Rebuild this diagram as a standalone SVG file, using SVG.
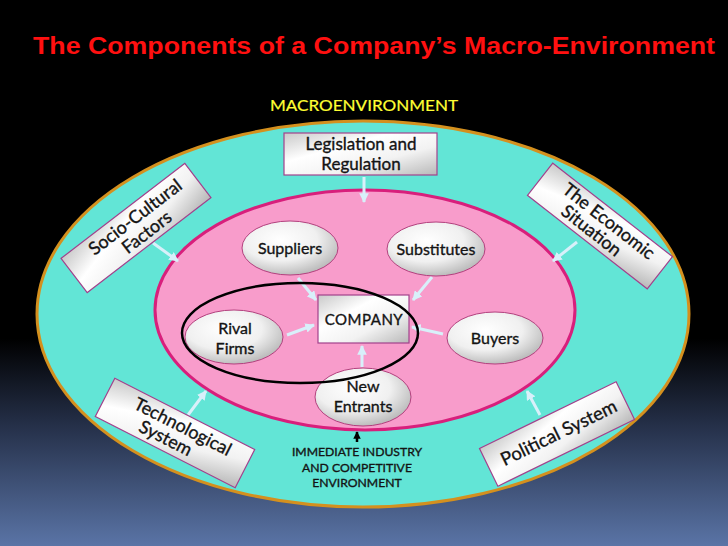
<svg xmlns="http://www.w3.org/2000/svg" width="728" height="546" viewBox="0 0 728 546">
<defs>
<linearGradient id="bg" x1="0" y1="0" x2="0" y2="1">
<stop offset="0" stop-color="#000"/>
<stop offset="0.62" stop-color="#000"/>
<stop offset="0.78" stop-color="#253049"/>
<stop offset="1" stop-color="#5a74a6"/>
</linearGradient>
<linearGradient id="box" x1="0" y1="0" x2="1" y2="1">
<stop offset="0" stop-color="#c9c9c9"/>
<stop offset="0.35" stop-color="#ffffff"/>
<stop offset="0.65" stop-color="#f2f2f2"/>
<stop offset="1" stop-color="#b8b8b8"/>
</linearGradient>
<radialGradient id="oval" cx="0.4" cy="0.35" r="0.7">
<stop offset="0" stop-color="#ffffff"/>
<stop offset="0.55" stop-color="#f0f0f0"/>
<stop offset="1" stop-color="#b5b5b5"/>
</radialGradient>
<marker id="ah" viewBox="0 0 10 10" refX="9" refY="5" markerWidth="3.2" markerHeight="3.2" orient="auto" markerUnits="strokeWidth">
<path d="M0,0 L10,5 L0,10 z" fill="#d8f0fa"/>
</marker>
<marker id="ahb" viewBox="0 0 10 10" refX="9" refY="5" markerWidth="3" markerHeight="3" orient="auto" markerUnits="strokeWidth">
<path d="M0,0 L10,5 L0,10 z" fill="#000"/>
</marker>
</defs>
<style>
.t{font-family:Lato,"Open Sans","Liberation Sans",sans-serif;fill:#141414;stroke:#141414;stroke-width:0.35;text-anchor:middle}
.bx{fill:url(#box);stroke:#a2418c;stroke-width:1.2}
.ov{fill:url(#oval);stroke:#b3407e;stroke-width:1}
.ar{stroke:#d8f0fa;stroke-width:3;fill:none;marker-end:url(#ah)}
</style>
<rect x="0" y="0" width="728" height="546" fill="url(#bg)"/>
<text x="374" y="54" font-family="'Liberation Sans',Arial,sans-serif" font-weight="bold" font-size="24" fill="#ff1010" text-anchor="middle" textLength="682" lengthAdjust="spacingAndGlyphs">The Components of a Company’s Macro-Environment</text>
<text x="364" y="111" font-family="Lato,'Open Sans',sans-serif" font-size="16" fill="#ffff33" stroke="#ffff33" stroke-width="0.2" text-anchor="middle" textLength="188" lengthAdjust="spacingAndGlyphs">MACROENVIRONMENT</text>

<g id="macro-environment">
<ellipse cx="363" cy="314" rx="326" ry="193" fill="#62e5d6" stroke="#d4901e" stroke-width="3"/>
</g>
<g id="industry-environment">
<ellipse cx="365" cy="310" rx="210" ry="120" fill="#f89ccb" stroke="#d81f7c" stroke-width="3"/>
</g>

<g id="connectors">
<line class="ar" x1="364" y1="177" x2="364" y2="202"/>
<line class="ar" x1="153" y1="243" x2="178" y2="261"/>
<line class="ar" x1="577" y1="242" x2="553" y2="261"/>
<line class="ar" x1="188" y1="415" x2="206" y2="391"/>
<line class="ar" x1="540" y1="415" x2="527" y2="391"/>
<line class="ar" x1="298" y1="278" x2="316" y2="300"/>
<line class="ar" x1="432" y1="277" x2="413" y2="300"/>
<line class="ar" x1="287" y1="335" x2="314" y2="325"/>
<line class="ar" x1="443" y1="334" x2="412" y2="327"/>
<line class="ar" x1="362" y1="367" x2="362" y2="346"/>
<line x1="357" y1="442" x2="357" y2="432" stroke="#000" stroke-width="2.5" marker-end="url(#ahb)"/>
</g>

<g id="legislation">
<rect class="bx" x="284" y="133" width="153" height="42"/>
<text class="t" x="361" y="150" font-size="17">Legislation and</text>
<text class="t" x="361" y="170" font-size="17">Regulation</text>
</g>
<g id="socio-cultural" transform="translate(136,228) rotate(-37.5)">
<rect class="bx" x="-78" y="-21.5" width="156" height="43"/>
<text class="t" x="6" y="-3" font-size="18">Socio-Cultural</text>
<text class="t" x="6" y="16" font-size="18">Factors</text>
</g>
<g id="economic" transform="translate(600,226) rotate(38)">
<rect class="bx" x="-76" y="-20.5" width="152" height="41"/>
<text class="t" x="4" y="-3" font-size="18">The Economic</text>
<text class="t" x="-4" y="15" font-size="18">Situation</text>
</g>
<g id="technological" transform="translate(175,433) rotate(27)">
<rect class="bx" x="-78.5" y="-21.5" width="157" height="43"/>
<text class="t" x="4" y="-3" font-size="18">Technological</text>
<text class="t" x="-6" y="15" font-size="18">System</text>
</g>
<g id="political" transform="translate(557,434) rotate(-26)">
<rect class="bx" x="-76" y="-21" width="152" height="42"/>
<text class="t" x="2" y="6" font-size="18.5">Political System</text>
</g>

<g id="suppliers">
<ellipse class="ov" cx="290" cy="248" rx="48" ry="27"/>
<text class="t" x="290" y="254" font-size="16">Suppliers</text>
</g>
<g id="substitutes">
<ellipse class="ov" cx="436" cy="249" rx="49" ry="27"/>
<text class="t" x="436" y="255" font-size="16">Substitutes</text>
</g>
<g id="company">
<rect class="bx" x="318" y="295" width="91" height="48"/>
<text class="t" x="364" y="325" font-size="15" letter-spacing="0.5">COMPANY</text>
</g>
<g id="rival-firms">
<ellipse class="ov" cx="234" cy="337" rx="49" ry="27"/>
<text class="t" x="235" y="334" font-size="16">Rival</text>
<text class="t" x="235" y="354" font-size="16">Firms</text>
</g>
<g id="buyers">
<ellipse class="ov" cx="495" cy="338" rx="48" ry="26"/>
<text class="t" x="495" y="344" font-size="16">Buyers</text>
</g>
<g id="new-entrants">
<ellipse class="ov" cx="363" cy="397" rx="48" ry="29"/>
<text class="t" x="363" y="392" font-size="16">New</text>
<text class="t" x="363" y="412" font-size="16">Entrants</text>
</g>
<g id="black-ring">
<ellipse cx="300" cy="333" rx="118" ry="50" fill="none" stroke="#000" stroke-width="2.5"/>
</g>
<g id="immediate-label">
<text class="t" x="357" y="456" font-size="12.2">IMMEDIATE INDUSTRY</text>
<text class="t" x="357" y="472" font-size="12.2">AND COMPETITIVE</text>
<text class="t" x="357" y="487" font-size="12.2">ENVIRONMENT</text>
</g>
</svg>
